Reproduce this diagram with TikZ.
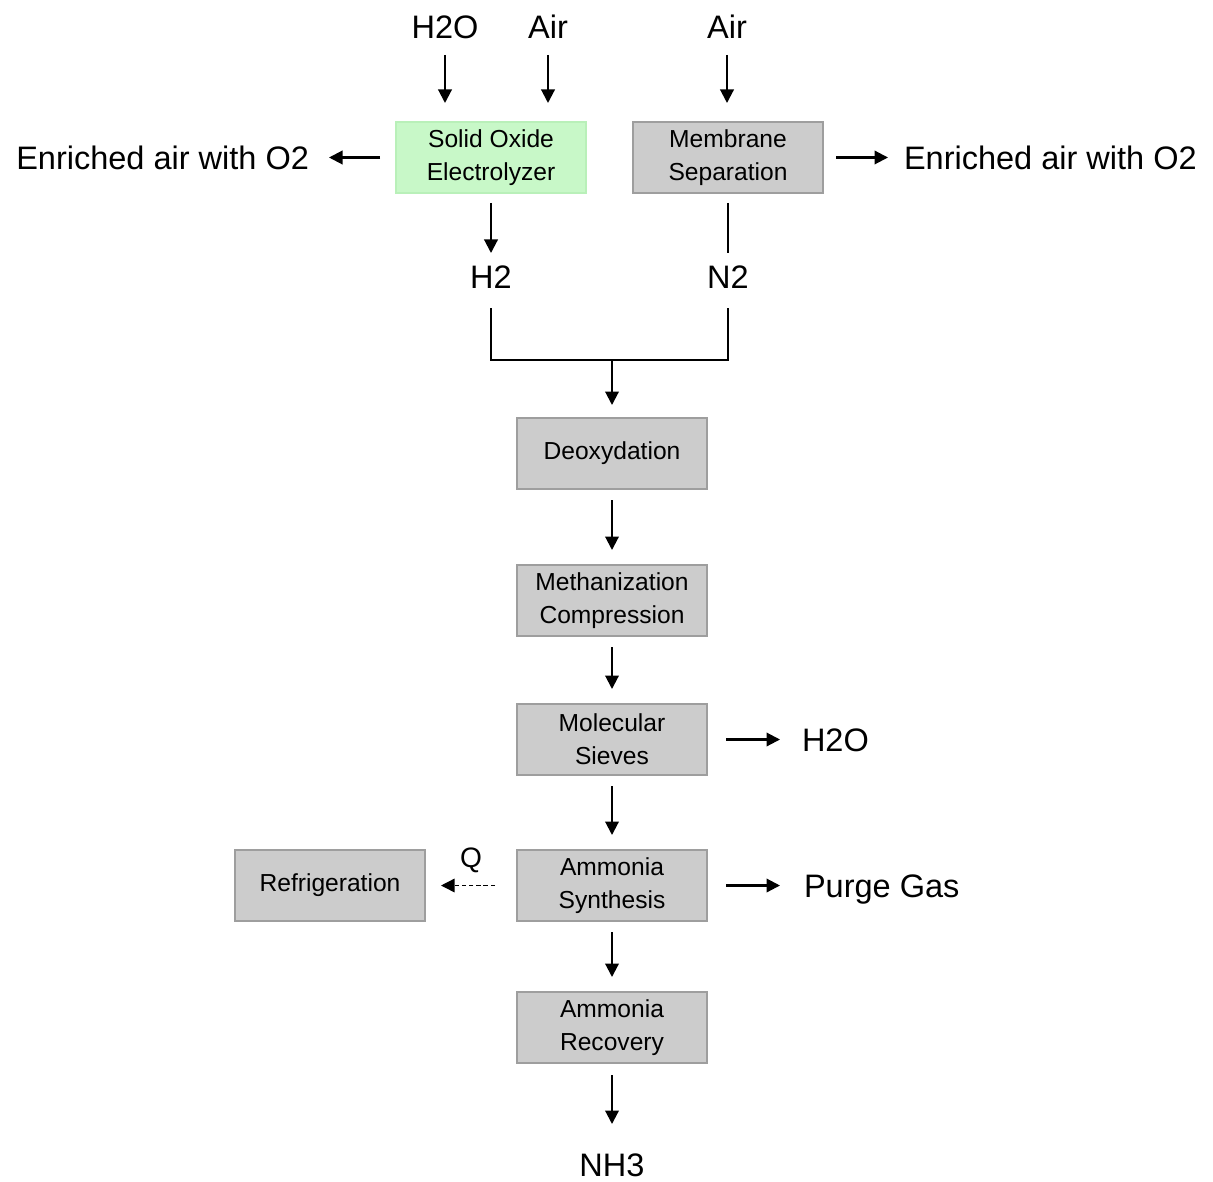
\documentclass[tikz,border=0pt]{standalone}
\usepackage{fontspec}
\setmainfont{Liberation Sans}
\usepackage{xcolor}
\usepackage{tikz}
\usetikzlibrary{arrows.meta,positioning}
\definecolor{boxfill}{RGB}{204,204,204}
\definecolor{boxline}{RGB}{158,158,158}
\definecolor{soefill}{RGB}{200,248,200}
\definecolor{soeline}{RGB}{185,240,185}

\begin{document}
\begin{tikzpicture}[node distance=1.5cm, >={Triangle[length=0.27cm,width=0.27cm]}]
    \tikzstyle{unit} = [rectangle, draw=boxline, line width=1pt, fill=boxfill, minimum width=3.8cm, minimum height=1.42cm, inner sep=0pt, outer sep=0pt, align=center, font=\fontsize{14pt}{19pt}\selectfont]
    \tikzstyle{soeunit} = [unit, draw=soeline, fill=soefill]
    \tikzstyle{stream} = [inner sep=0pt, outer sep=0pt, text height=0.48cm, text depth=0cm, font=\fontsize{18.5pt}{22pt}\selectfont]
    \tikzstyle{flow} = [->, line width=1.2pt, shorten <=0.22cm, shorten >=0.3cm]
    \tikzstyle{pipe} = [line width=1.2pt]
    \useasboundingbox (0,0) rectangle (24.26,-23.62);

    % Feed and separation
    \node [soeunit] (soe) at (9.82,-3.15) {Solid Oxide\\Electrolyzer};
    \node [unit, right=0.94cm of soe] (mem) {Membrane\\Separation};
    \node [stream] (h2o) at (8.9,-0.54) {H2O};
    \node [stream] (air1) at (10.96,-0.54) {Air};
    \node [stream] (air2) at (14.54,-0.54) {Air};
    \node [stream, left=1.74cm of soe] (enrl) {Enriched air with O2};
    \node [stream, right=1.62cm of mem] (enrr) {Enriched air with O2};
    \node [stream, below=1.44cm of soe] (h2) {H2};
    \node [stream, below=1.44cm of mem] (n2) {N2};
    \coordinate (join) at (12.24,-7.2);

    % Synthesis loop
    \node [unit] (deoxy) at (12.24,-9.07) {Deoxydation};
    \node [unit, below=1.52cm of deoxy] (methan) {Methanization\\Compression};
    \node [unit, below=1.36cm of methan] (sieves) {Molecular\\Sieves};
    \node [unit, below=1.5cm of sieves] (synth) {Ammonia\\Synthesis};
    \node [unit, below=1.42cm of synth] (recov) {Ammonia\\Recovery};
    \node [unit, left=1.84cm of synth] (refrig) {Refrigeration};
    \node [stream, right=1.9cm of sieves] (h2oout) {H2O};
    \node [stream, right=1.94cm of synth] (purge) {Purge Gas};
    \node [stream, below=1.78cm of recov] (nh3) {NH3};
    \node [stream, font=\fontsize{16pt}{19pt}\selectfont] (q) at (9.42,-17.1) {Q};

    % Connections
    \draw[flow, shorten <=0.32cm, shorten >=0.38cm] (h2o) -- (h2o |- soe.north);
    \draw[flow, shorten <=0.32cm, shorten >=0.38cm] (air1) -- (air1 |- soe.north);
    \draw[flow, shorten <=0.32cm, shorten >=0.38cm] (air2) -- (air2 |- mem.north);
    \draw[flow, shorten <=0.32cm, shorten >=0.4cm] (soe) -- (enrl);
    \draw[flow, shorten <=0.26cm, shorten >=0.32cm] (mem) -- (enrr);
    \draw[flow, shorten <=0.2cm, shorten >=0.24cm] (soe) -- (h2);
    \draw[pipe, shorten <=0.2cm, shorten >=0.24cm] (mem) -- (n2);
    \draw[pipe, shorten <=0.38cm, shorten >=0.38cm] (h2) -- (h2 |- join) -- (n2 |- join) -- (n2);
    \draw[flow, shorten <=0pt, shorten >=0.26cm] (join) -- (deoxy);
    \draw[flow] (deoxy) -- (methan);
    \draw[flow] (methan) -- (sieves);
    \draw[flow] (sieves) -- (synth);
    \draw[flow] (synth) -- (recov);
    \draw[flow, shorten <=0.24cm, shorten >=0.56cm] (recov) -- (nh3);
    \draw[flow, shorten <=0.38cm, shorten >=0.44cm] (sieves) -- (h2oout);
    \draw[flow, shorten <=0.38cm, shorten >=0.48cm] (synth) -- (purge);
    \draw[flow, line width=0.8pt, dash pattern=on 2.5pt off 1.6pt, shorten <=0.44cm, shorten >=0.32cm] (synth) -- (refrig);
\end{tikzpicture}
\end{document}
